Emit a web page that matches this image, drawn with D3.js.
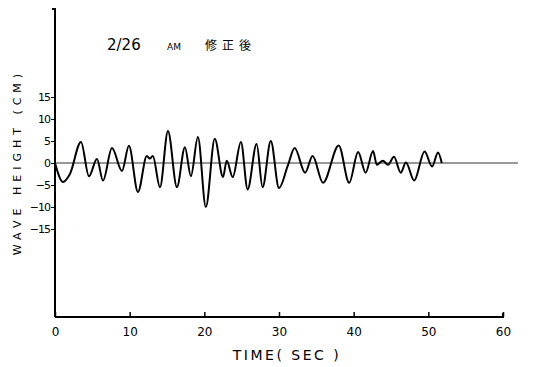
<!DOCTYPE html>
<html>
<head>
  <meta charset="UTF-8" />
  <title>2/26 AM 修正後</title>
  <style>
    body { margin: 0; background: #fff; }
    svg { display: block; font-family: "DejaVu Sans", sans-serif; }
  </style>
</head>
<body>
  <div id="chart"></div>
  <script src="https://d3js.org/d3.v7.min.js"></script>
  <script>
    // temps (s) et hauteur (cm) des extrema
    const times = [0, 1.07, 2.0, 3.48, 4.55, 5.62, 6.43, 7.63, 8.97, 9.9,
      11.11, 12.3, 12.7, 13.1, 14.06, 15.13, 16.33, 17.4, 18.2, 19.14,
      20.2, 21.4, 22.5, 23.0, 23.8, 24.9, 25.8, 27.0, 27.8, 28.9,
      30.0, 31.2, 32.1, 33.5, 34.5, 35.9, 38.0, 39.4, 40.6, 41.6,
      42.6, 43.1, 43.9, 44.6, 45.4, 46.3, 47.0, 48.1, 49.5, 50.5,
      51.3, 51.8];
    const heights = [0, -4.3, -2.5, 4.8, -3, 0.9, -4, 3.4, -1.8, 3.9,
      -6.6, 1.6, 1.0, 1.6, -5.5, 7.3, -5.5, 3.6, -3, 5.9,
      -10, 5.5, -3.2, 0.5, -3.2, 4.8, -6, 4.3, -5.5, 5,
      -5.7, -0.5, 3.4, -2.2, 1.6, -4.5, 4, -4.5, 2.5, -2.2,
      2.7, -0.4, 0.5, -0.4, 1.4, -2.2, 0.1, -4, 2.6, -0.8,
      2.4, 0];
    const xTicks = [0, 10, 20, 30, 40, 50, 60];
    const yTicks = [15, 10, 5, 0, -5, -10, -15];

    const W = 536, H = 367;
    const svg = d3.select("#chart").append("svg")
      .attr("width", W)
      .attr("height", H);

    const x = d3.scaleLinear().domain([0, 60]).range([55, 503]);
    const y = d3.scaleLinear().domain([-35, 35]).range([317, 9]);

    const data = times.map((t, i) => ({ t, h: heights[i] }));

    // ligne zéro
    svg.append("line")
      .attr("x1", x(0)).attr("x2", x(62))
      .attr("y1", y(0)).attr("y2", y(0))
      .attr("stroke", "#333")
      .attr("stroke-width", 1);

    // courbe
    const line = d3.line()
      .x(d => x(d.t))
      .y(d => y(d.h))
      .curve(d3.curveMonotoneX);

    svg.append("path")
      .datum(data)
      .attr("d", line)
      .attr("fill", "none")
      .attr("stroke", "#000")
      .attr("stroke-width", 2);

    // axe x
    const gx = svg.append("g")
      .attr("transform", `translate(0,${y(-35)})`)
      .call(d3.axisBottom(x).tickValues(xTicks).tickSize(-5).tickPadding(10));
    gx.select(".domain").attr("stroke-width", 2).attr("d", `M${x(0)},0H${x(60)}V-4`);
    gx.selectAll(".tick line").attr("stroke-width", 1.5);
    gx.selectAll("text")
      .attr("font-size", 12)
      .attr("font-family", "DejaVu Sans")
      .attr("fill", "#000");

    // axe y
    const gy = svg.append("g")
      .attr("transform", `translate(${x(0)},0)`)
      .call(d3.axisLeft(y).tickValues(yTicks).tickSize(4).tickPadding(1));
    gy.select(".domain").attr("stroke-width", 2).attr("d", `M-3,${y(35)}H0V${y(-35)}`);
    gy.selectAll("text")
      .attr("font-size", 11)
      .attr("letter-spacing", -1)
      .attr("font-family", "DejaVu Sans")
      .attr("fill", "#000");

    // titres
    svg.append("text")
      .attr("x", 18).attr("y", 162)
      .attr("transform", "rotate(-90,18,162)")
      .attr("text-anchor", "middle")
      .attr("dominant-baseline", "middle")
      .attr("font-size", 11)
      .attr("letter-spacing", 5)
      .text("WAVE HEIGHT (CM)");

    svg.append("text")
      .attr("x", 287).attr("y", 360)
      .attr("text-anchor", "middle")
      .attr("font-size", 14)
      .attr("letter-spacing", 2.5)
      .text("TIME( SEC )");

    const title = svg.append("text").attr("y", 50);
    title.append("tspan").attr("x", 107).attr("font-size", 15).text("2/26");
    title.append("tspan").attr("x", 167).attr("font-size", 9).text("AM");
    title.append("tspan").attr("x", 205).attr("font-size", 12)
      .attr("letter-spacing", 5)
      .attr("font-family", "Noto Sans CJK JP")
      .text("修正後");
  </script>
</body>
</html>
